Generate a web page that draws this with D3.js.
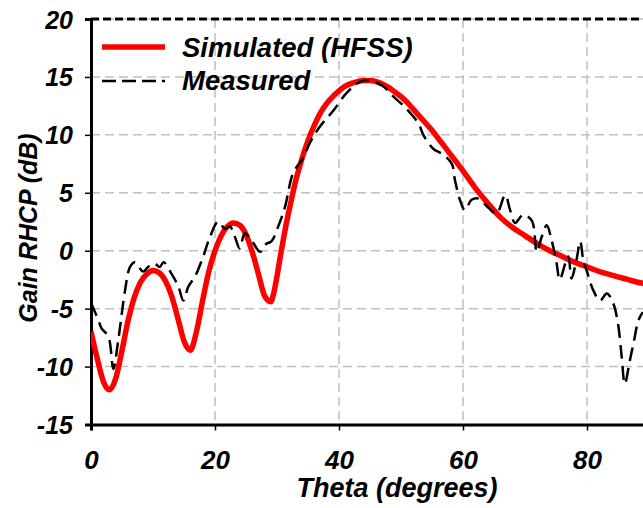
<!DOCTYPE html>
<html><head><meta charset="utf-8">
<script src="https://cdn.jsdelivr.net/npm/d3@7"></script>
<style>body{margin:0;background:#fff}svg text{font-family:"Liberation Sans",Arial,sans-serif;font-weight:bold;font-style:italic;fill:#000}</style>
</head><body>
<svg id="c" width="643" height="508"></svg>
<script>
const xTicks = [0, 20, 40, 60, 80];
const yTicks = [-15, -10, -5, 0, 5, 10, 15, 20];
const simTheta = [0,1,2,3,4,5,6,7,8,9,10,11,12,13,14,15,16,17,18,19,20,21,22,23,24,25,26,27,28,29,29.5,30,30.5,31,31.6,32,33,34,35,36,37,38,39,40,41,42,43,44,45,46,47,48,49,50,51,52,53,54,55,56,57,58,59,60,62,64,66,68,70,72,74,76,78,80,82,84,86,88,90];
const simGain = [-7.0,-9.3,-11.3,-12.0,-11.0,-8.6,-6.0,-4.0,-2.7,-2.0,-1.7,-1.9,-2.6,-3.9,-5.8,-7.8,-8.6,-7.0,-4.3,-1.8,0.0,1.3,2.1,2.4,2.2,1.4,-0.1,-2.0,-3.9,-4.4,-3.6,-2.2,-0.6,0.9,2.6,3.6,6.0,7.9,9.5,10.8,11.9,12.7,13.3,13.8,14.2,14.45,14.6,14.7,14.7,14.6,14.4,14.1,13.7,13.3,12.8,12.2,11.6,11.0,10.4,9.7,9.0,8.3,7.6,6.9,5.4,4.1,2.9,2.0,1.3,0.6,0.0,-0.5,-1.0,-1.4,-1.8,-2.1,-2.4,-2.7,-2.9];
const measTheta = [0,1.2,1.7,2.8,3.6,4.4,5.5,6.3,7.1,8.4,9.2,10.2,11.1,11.7,13.0,14.1,14.9,15.7,16.8,18.1,19.2,20.5,21.6,22.4,23.2,24.0,24.8,25.9,27.3,28.3,29.1,30.2,31.3,32.6,34.2,35.3,36.9,39.1,41.2,43.4,45.0,47.1,48.8,50.6,52.8,53.6,55.2,56.8,58.2,58.7,59.5,60.3,61.4,62.5,64.1,65.4,66.8,67.6,68.4,69.7,71.1,71.9,72.7,73.5,74.3,75.1,75.6,76.5,77.0,77.5,78.3,78.9,79.4,80.0,81.0,82.1,83.2,84.2,85.0,85.6,86.1,86.9,87.5,88.3,89.0];
const measGain = [-4.5,-6.0,-6.7,-7.4,-10.2,-7.7,-3.4,-1.4,-1.0,-1.8,-1.4,-1.1,-1.4,-1.0,-2.0,-3.1,-4.3,-3.1,-2.2,-0.5,1.2,2.5,1.9,2.1,1.2,0.2,1.5,0.9,-0.1,0.6,0.8,2.1,3.8,6.7,8.0,9.3,10.7,12.1,13.6,14.6,14.7,14.2,13.3,12.4,11.0,10.0,8.8,8.3,7.5,6.1,4.4,3.5,4.4,4.5,3.7,3.2,4.8,3.5,2.4,3.1,2.6,-0.1,1.2,2.2,0.9,-1.1,-2.5,-1.1,-0.5,-2.4,-0.8,0.8,-0.8,-1.8,-3.4,-4.3,-3.7,-4.5,-6.3,-9.2,-11.5,-9.5,-8.0,-6.0,-5.3];
const seriesNames = ["Simulated (HFSS)", "Measured"];

const svg = d3.select("#c");
const x = d3.scaleLinear().domain([0, 90]).range([91, 649]);
const y = d3.scaleLinear().domain([-15, 20]).range([424.5, 19]);

// grid
const grid = svg.append("g");
grid.selectAll("line.v").data(xTicks.filter(d => d > 0)).enter().append("line")
  .attr("x1", d => x(d)).attr("x2", d => x(d)).attr("y1", y(20)).attr("y2", y(-15))
  .attr("stroke", "#c0c0c0").attr("stroke-width", 1.5).attr("stroke-dasharray", "9,5");
grid.selectAll("line.h").data(yTicks.filter(d => d > -15)).enter().append("line")
  .attr("x1", x(0)).attr("x2", 643).attr("y1", d => y(d)).attr("y2", d => y(d))
  .attr("stroke", "#c0c0c0").attr("stroke-width", 1.5).attr("stroke-dasharray", "9,5");
// top border dashed
svg.append("line").attr("x1", x(0)).attr("x2", 643).attr("y1", y(20)).attr("y2", y(20))
  .attr("stroke", "#000").attr("stroke-width", 3).attr("stroke-dasharray", "8,4");

// axes
const yAxis = d3.axisLeft(y).tickValues(yTicks).tickSize(6).tickFormat(d => String(d));
const gy = svg.append("g").attr("transform", `translate(${x(0)},0)`).call(yAxis);
gy.select(".domain").attr("stroke-width", 3);
gy.selectAll(".tick line").attr("stroke-width", 1.5);
gy.selectAll(".tick text").attr("font-size", 25).attr("x", -18).attr("dy", "0.36em")
  .style("font-family", "Liberation Sans").style("font-weight", "bold").style("font-style", "italic");

const gx = svg.append("g").attr("transform", `translate(0,${y(-15)})`)
  .call(d3.axisBottom(x).tickValues(xTicks).tickSize(6).tickFormat(d => String(d)));
gx.select(".domain").attr("stroke-width", 3);
gx.selectAll(".tick line").attr("stroke-width", 1.5);
gx.selectAll(".tick text").attr("font-size", 26).attr("y", 26).attr("dy", "0.71em")
  .style("font-family", "Liberation Sans").style("font-weight", "bold").style("font-style", "italic");
svg.selectAll(".domain").attr("stroke", "#000");

// clip
svg.append("clipPath").attr("id", "clip").append("rect").attr("x", x(0)).attr("y", 0).attr("width", 643).attr("height", y(-15));

const simLine = d3.line().x(d => x(d[0])).y(d => y(d[1])).curve(d3.curveMonotoneX);
const measLine = d3.line().x(d => x(d[0])).y(d => y(d[1])).curve(d3.curveCatmullRom.alpha(0.5));
const sim = simTheta.map((t, i) => [t, simGain[i]]);
const meas = measTheta.map((t, i) => [t, measGain[i]]);
svg.append("path").attr("clip-path", "url(#clip)").attr("d", simLine(sim)).attr("fill", "none")
  .attr("stroke", "#ff0000").attr("stroke-width", 5.5).attr("stroke-linejoin", "round");
svg.append("path").attr("clip-path", "url(#clip)").attr("d", measLine(meas)).attr("fill", "none")
  .attr("stroke", "#000").attr("stroke-width", 2.5).attr("stroke-dasharray", "14,7");

// legend
const leg = svg.append("g");
leg.append("line").attr("x1", 102).attr("x2", 165).attr("y1", 47).attr("y2", 47).attr("stroke", "#ff0000").attr("stroke-width", 5.5);
leg.append("line").attr("x1", 102).attr("x2", 165).attr("y1", 81).attr("y2", 81).attr("stroke", "#000").attr("stroke-width", 2.5).attr("stroke-dasharray", "14,6");
leg.selectAll("text").data(seriesNames).enter().append("text")
  .attr("x", 182).attr("y", (d, i) => 57 + i * 33).attr("font-size", 27.5).text(d => d);

// titles
svg.append("text").attr("x", 397).attr("y", 497).attr("text-anchor", "middle").attr("font-size", 27).text("Theta (degrees)");
svg.append("text").attr("transform", "translate(37,228) rotate(-90)").attr("text-anchor", "middle").attr("font-size", 25).text("Gain RHCP (dB)");
</script>
</body></html>
